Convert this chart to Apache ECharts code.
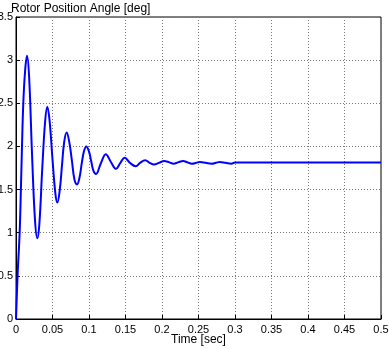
<!DOCTYPE html>
<html>
<head>
<meta charset="utf-8">
<script src="https://cdn.jsdelivr.net/npm/echarts@6/dist/echarts.min.js"></script>
<style>
  html, body { margin: 0; padding: 0; background: #fff; }
  #chart { width: 389px; height: 349px; }
</style>
</head>
<body>
<div id="chart"></div>
<script>
// time [sec] and rotor angle [deg] at peaks, troughs and crossings
const timeSec = [
  0, 0.0023, 0.005, 0.0068, 0.0082, 0.010, 0.0125, 0.0151, 0.018, 0.022, 0.026, 0.0292,
  0.032, 0.036, 0.040, 0.0429, 0.046, 0.050, 0.054, 0.0566, 0.060, 0.063, 0.066, 0.0694,
  0.073, 0.0765, 0.080, 0.0836, 0.087, 0.090, 0.093, 0.0963, 0.100, 0.103, 0.106, 0.1096,
  0.116, 0.123, 0.130, 0.137, 0.143, 0.149, 0.156, 0.164, 0.170, 0.177, 0.183, 0.189,
  0.196, 0.203, 0.210, 0.216, 0.222, 0.229, 0.235, 0.241, 0.247, 0.252, 0.260, 0.268,
  0.274, 0.279, 0.287, 0.295, 0.300, 0.5
];
const angleDeg = [
  0, 0.53, 1.0, 1.53, 2.0, 2.5, 2.88, 3.05, 2.8, 1.9, 1.15, 0.935,
  1.1, 1.75, 2.3, 2.46, 2.3, 1.85, 1.45, 1.35, 1.5, 1.78, 2.05, 2.16,
  2.05, 1.84, 1.62, 1.56, 1.64, 1.80, 1.94, 2.00, 1.94, 1.83, 1.72, 1.68,
  1.80, 1.91, 1.82, 1.74, 1.81, 1.87, 1.81, 1.77, 1.81, 1.84, 1.81, 1.79,
  1.81, 1.83, 1.815, 1.80, 1.815, 1.83, 1.815, 1.80, 1.81, 1.82, 1.81, 1.80,
  1.81, 1.82, 1.81, 1.80, 1.815, 1.815
];

const chart = echarts.init(document.getElementById('chart'));
const font = 'Liberation Sans, Arial, sans-serif';
const gridLine = { show: true, lineStyle: { color: '#777', type: [1, 2], width: 1 } };

chart.setOption({
  animation: false,
  backgroundColor: '#fff',
  title: {
    text: 'Rotor Position Angle [deg]',
    left: 6, top: -2,
    textStyle: { fontFamily: font, fontSize: 12, fontWeight: 'normal', color: '#000' }
  },
  grid: {
    left: 16, right: 8, top: 17, bottom: 30,
    outerBoundsMode: 'none', containLabel: false,
    show: true, borderColor: '#000', borderWidth: 1
  },
  xAxis: {
    type: 'value', min: 0, max: 0.5, interval: 0.05,
    name: 'Time [sec]', nameLocation: 'middle', nameGap: 15, nameMoveOverlap: false,
    nameTextStyle: { fontFamily: font, fontSize: 12, color: '#000', verticalAlign: 'top' },
    axisLine: { show: true, lineStyle: { color: '#000' } },
    axisTick: { inside: true, length: 4, lineStyle: { color: '#000' } },
    axisLabel: { fontFamily: font, fontSize: 11, color: '#000', margin: 5 },
    splitLine: gridLine
  },
  yAxis: {
    type: 'value', min: 0, max: 3.5, interval: 0.5,
    axisLine: { show: true, lineStyle: { color: '#000' } },
    axisTick: { inside: true, length: 4, lineStyle: { color: '#000' } },
    axisLabel: { fontFamily: font, fontSize: 11, color: '#000', margin: 3 },
    splitLine: gridLine
  },
  series: [{
    type: 'line',
    data: timeSec.map((t, i) => [t, angleDeg[i]]),
    smooth: 0.4,
    showSymbol: false,
    lineStyle: { color: '#0000ff', width: 2 }
  }]
});
</script>
</body>
</html>
